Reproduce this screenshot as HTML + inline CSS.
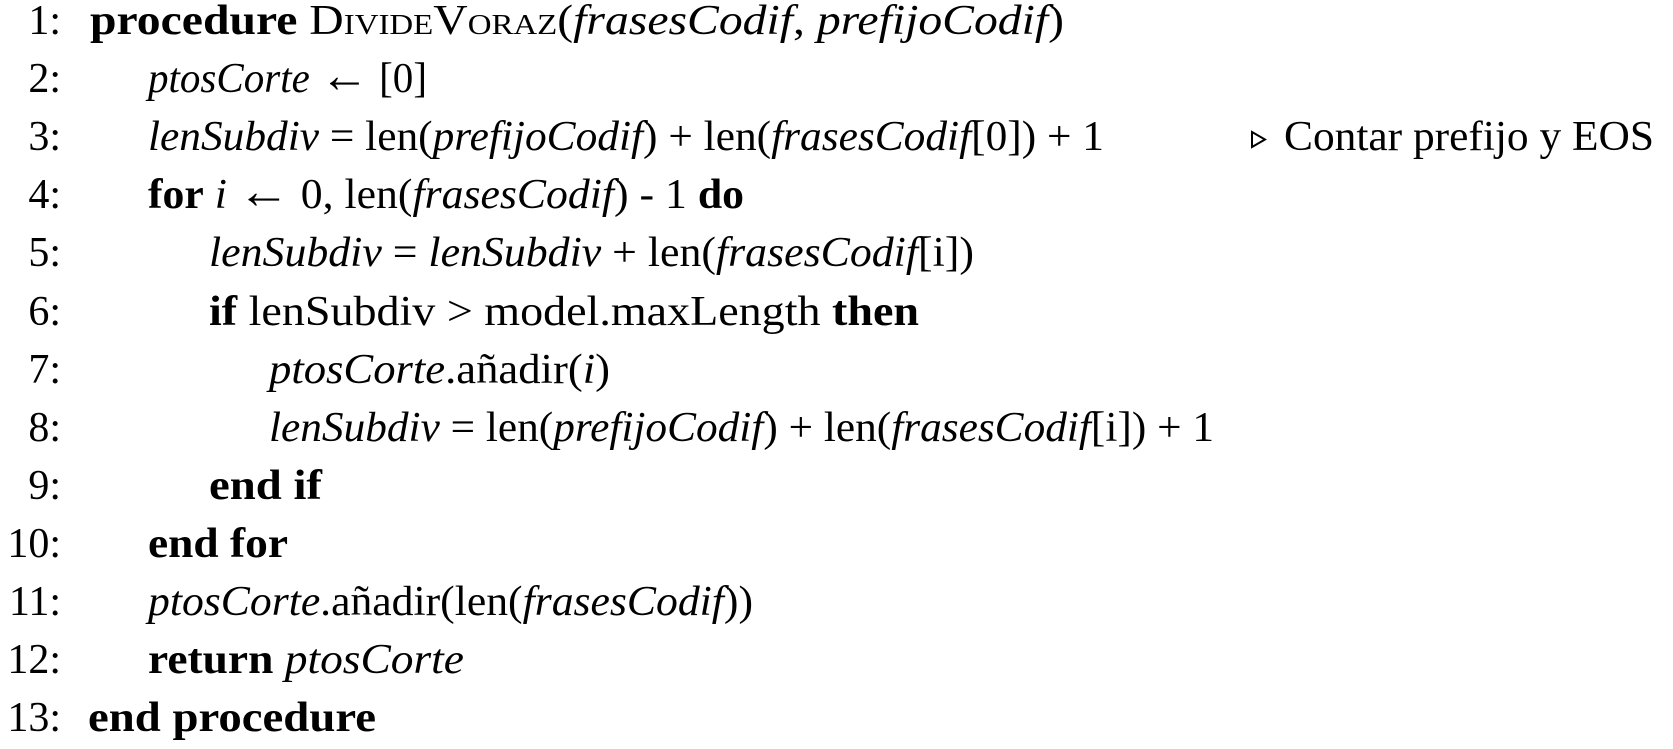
<!DOCTYPE html>
<html><head><meta charset="utf-8"><style>
html,body{margin:0;padding:0;background:#fff;}
svg{display:block;}
text{font-family:"Liberation Serif",serif;font-size:42px;fill:#000;}
.b{font-weight:bold;}
.i{font-style:italic;}
.sc{font-variant:small-caps;}
</style></head><body>
<svg width="1673" height="749" xmlns="http://www.w3.org/2000/svg">
<g text-anchor="end">
<text x="61" y="34">1:</text>
<text x="61" y="92">2:</text>
<text x="61" y="150">3:</text>
<text x="61" y="208">4:</text>
<text x="61" y="266">5:</text>
<text x="61" y="325">6:</text>
<text x="61" y="383">7:</text>
<text x="61" y="441">8:</text>
<text x="61" y="499">9:</text>
<text x="61" y="557">10:</text>
<text x="61" y="615">11:</text>
<text x="61" y="673">12:</text>
<text x="61" y="731">13:</text>
</g>
<text x="90" y="34" textLength="974" lengthAdjust="spacingAndGlyphs"><tspan class="b">procedure</tspan> <tspan class="sc">DivideVoraz</tspan>(<tspan class="i">frasesCodif</tspan>, <tspan class="i">prefijoCodif</tspan>)</text>
<text x="148" y="92" textLength="279" lengthAdjust="spacingAndGlyphs"><tspan class="i">ptosCorte</tspan> <tspan font-size="50">←</tspan> [0]</text>
<text x="148" y="150" textLength="956" lengthAdjust="spacingAndGlyphs"><tspan class="i">lenSubdiv</tspan> = len(<tspan class="i">prefijoCodif</tspan>) + len(<tspan class="i">frasesCodif</tspan>[0]) + 1</text>
<polygon points="1252,132 1265,139.5 1252,147" fill="none" stroke="#000" stroke-width="2"/>
<text x="1284" y="150" textLength="370" lengthAdjust="spacingAndGlyphs">Contar prefijo y EOS</text>
<text x="148" y="208" textLength="596" lengthAdjust="spacingAndGlyphs"><tspan class="b">for</tspan> <tspan class="i">i</tspan> <tspan font-size="50">←</tspan> 0, len(<tspan class="i">frasesCodif</tspan>) - 1  <tspan class="b">do</tspan></text>
<text x="209" y="266" textLength="765" lengthAdjust="spacingAndGlyphs"><tspan class="i">lenSubdiv</tspan> = <tspan class="i">lenSubdiv</tspan> + len(<tspan class="i">frasesCodif</tspan>[i])</text>
<text x="209" y="325" textLength="710" lengthAdjust="spacingAndGlyphs"><tspan class="b">if</tspan> lenSubdiv &gt;  model.maxLength  <tspan class="b">then</tspan></text>
<text x="269" y="383" textLength="341" lengthAdjust="spacingAndGlyphs"><tspan class="i">ptosCorte</tspan>.añadir(<tspan class="i">i</tspan>)</text>
<text x="269" y="441" textLength="945" lengthAdjust="spacingAndGlyphs"><tspan class="i">lenSubdiv</tspan> = len(<tspan class="i">prefijoCodif</tspan>) + len(<tspan class="i">frasesCodif</tspan>[i]) + 1</text>
<text x="209" y="499" textLength="113" lengthAdjust="spacingAndGlyphs" class="b">end if</text>
<text x="148" y="557" textLength="140" lengthAdjust="spacingAndGlyphs" class="b">end for</text>
<text x="148" y="615" textLength="605" lengthAdjust="spacingAndGlyphs"><tspan class="i">ptosCorte</tspan>.añadir(len(<tspan class="i">frasesCodif</tspan>))</text>
<text x="148" y="673" textLength="316" lengthAdjust="spacingAndGlyphs"><tspan class="b">return</tspan> <tspan class="i">ptosCorte</tspan></text>
<text x="88" y="731" textLength="288" lengthAdjust="spacingAndGlyphs" class="b">end procedure</text>
</svg>
</body></html>
